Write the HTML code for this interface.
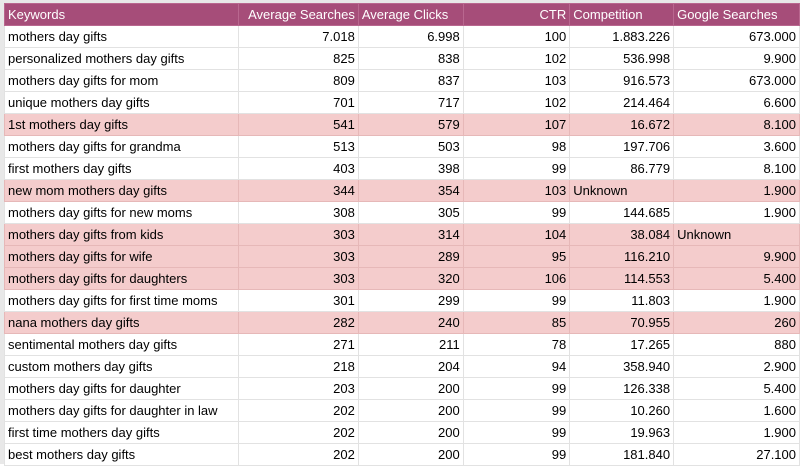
<!DOCTYPE html>
<html><head><style>
body{margin:0;width:800px;height:464px;overflow:hidden;background:#fff;font-family:"Liberation Sans",Arial,sans-serif;font-size:13px;color:#000}
.wrap{position:absolute;left:0;top:0;width:800px;height:464px;background:#fff}
table{position:absolute;left:4px;top:3px;border-collapse:collapse;table-layout:fixed}
td{height:21px;padding:0 3px;border:1px solid #e2e2e2;white-space:nowrap;overflow:hidden;line-height:21px}
tr.h td{background:#a64d79;color:#fff;height:20px;border-color:#b9678f}
tr.p td{background:#f4cccc;border-color:#e6b8b8}
td.r{text-align:right}
.lg{position:absolute;left:0;top:0;width:4px;height:464px;background:#e8e8e8}
.tg{position:absolute;left:0;top:0;width:800px;height:3px;background:#e8e8e8}
</style></head><body><div class="wrap">
<div class="tg"></div><div class="lg"></div>
<table>
<colgroup><col style="width:234px"><col style="width:120px"><col style="width:105px"><col style="width:107px"><col style="width:104px"><col style="width:126px"></colgroup>
<tr class="h"><td>Keywords</td><td class="r">Average Searches</td><td>Average Clicks</td><td class="r">CTR</td><td>Competition</td><td>Google Searches</td></tr>
<tr><td>mothers day gifts</td><td class="r">7.018</td><td class="r">6.998</td><td class="r">100</td><td class="r">1.883.226</td><td class="r">673.000</td></tr>
<tr><td>personalized mothers day gifts</td><td class="r">825</td><td class="r">838</td><td class="r">102</td><td class="r">536.998</td><td class="r">9.900</td></tr>
<tr><td>mothers day gifts for mom</td><td class="r">809</td><td class="r">837</td><td class="r">103</td><td class="r">916.573</td><td class="r">673.000</td></tr>
<tr><td>unique mothers day gifts</td><td class="r">701</td><td class="r">717</td><td class="r">102</td><td class="r">214.464</td><td class="r">6.600</td></tr>
<tr class="p"><td>1st mothers day gifts</td><td class="r">541</td><td class="r">579</td><td class="r">107</td><td class="r">16.672</td><td class="r">8.100</td></tr>
<tr><td>mothers day gifts for grandma</td><td class="r">513</td><td class="r">503</td><td class="r">98</td><td class="r">197.706</td><td class="r">3.600</td></tr>
<tr><td>first mothers day gifts</td><td class="r">403</td><td class="r">398</td><td class="r">99</td><td class="r">86.779</td><td class="r">8.100</td></tr>
<tr class="p"><td>new mom mothers day gifts</td><td class="r">344</td><td class="r">354</td><td class="r">103</td><td>Unknown</td><td class="r">1.900</td></tr>
<tr><td>mothers day gifts for new moms</td><td class="r">308</td><td class="r">305</td><td class="r">99</td><td class="r">144.685</td><td class="r">1.900</td></tr>
<tr class="p"><td>mothers day gifts from kids</td><td class="r">303</td><td class="r">314</td><td class="r">104</td><td class="r">38.084</td><td>Unknown</td></tr>
<tr class="p"><td>mothers day gifts for wife</td><td class="r">303</td><td class="r">289</td><td class="r">95</td><td class="r">116.210</td><td class="r">9.900</td></tr>
<tr class="p"><td>mothers day gifts for daughters</td><td class="r">303</td><td class="r">320</td><td class="r">106</td><td class="r">114.553</td><td class="r">5.400</td></tr>
<tr><td>mothers day gifts for first time moms</td><td class="r">301</td><td class="r">299</td><td class="r">99</td><td class="r">11.803</td><td class="r">1.900</td></tr>
<tr class="p"><td>nana mothers day gifts</td><td class="r">282</td><td class="r">240</td><td class="r">85</td><td class="r">70.955</td><td class="r">260</td></tr>
<tr><td>sentimental mothers day gifts</td><td class="r">271</td><td class="r">211</td><td class="r">78</td><td class="r">17.265</td><td class="r">880</td></tr>
<tr><td>custom mothers day gifts</td><td class="r">218</td><td class="r">204</td><td class="r">94</td><td class="r">358.940</td><td class="r">2.900</td></tr>
<tr><td>mothers day gifts for daughter</td><td class="r">203</td><td class="r">200</td><td class="r">99</td><td class="r">126.338</td><td class="r">5.400</td></tr>
<tr><td>mothers day gifts for daughter in law</td><td class="r">202</td><td class="r">200</td><td class="r">99</td><td class="r">10.260</td><td class="r">1.600</td></tr>
<tr><td>first time mothers day gifts</td><td class="r">202</td><td class="r">200</td><td class="r">99</td><td class="r">19.963</td><td class="r">1.900</td></tr>
<tr><td>best mothers day gifts</td><td class="r">202</td><td class="r">200</td><td class="r">99</td><td class="r">181.840</td><td class="r">27.100</td></tr>
</table></div></body></html>
